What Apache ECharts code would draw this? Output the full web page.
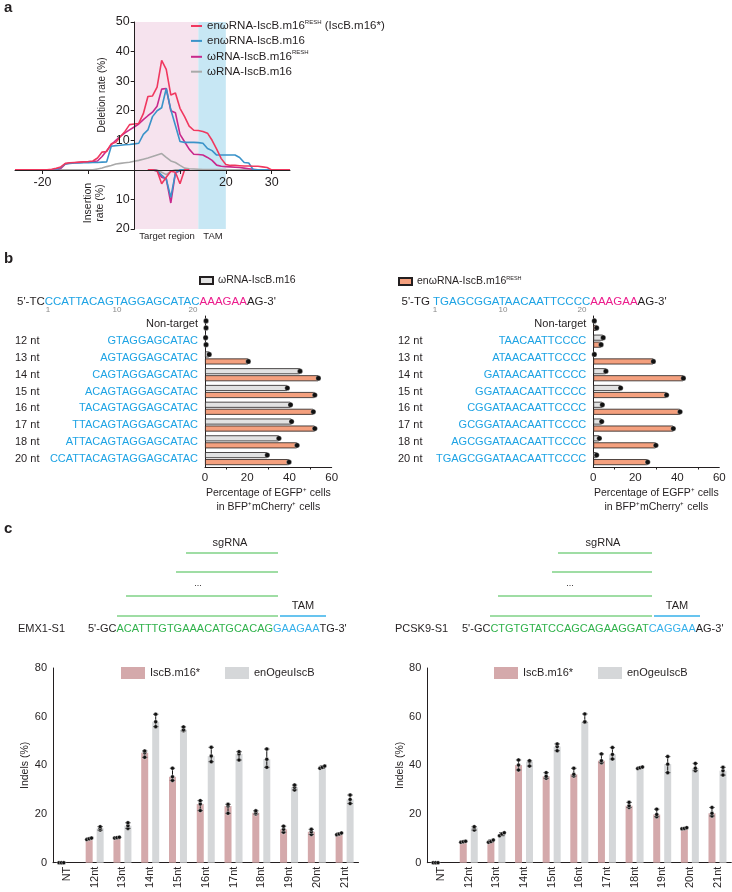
<!DOCTYPE html>
<html><head><meta charset="utf-8">
<script src="https://cdn.jsdelivr.net/npm/echarts@6/dist/echarts.min.js"></script>
<style>html,body{margin:0;padding:0;background:#fff}#c{width:732px;height:892px}</style>
</head><body><div id="c"></div>
<script>
// ================= DATA =================
// ---- Panel a: deletion / insertion profiles ----
const aX = [-26,-25,-24,-23,-22,-21,-20,-19,-18,-17,-16,-15,-14,-13,-12,-11,-10,-9,-8,-7,-6,-5,-4,-3,-2,-1,0,1,2,3,4,5,6,7,8,9,10,11,12,13,14,15,16,17,18,19,20,21,22,23,24,25,26,27,28,29,30,31,32,33,34];
const aDelRed  = [0,0,0,0,0,0,0,0, 0.2,0.5,1,2.2,2.4,2.5,2.6,2.7,2.8,3,4,6,6.2,8.8,9.3,11.3,13,15.3, 15.5,15.7,19,24.8,25,28,37,34,25.3,26,20.8,18,14.8,13.4,13.3,13,12.4,10,7,3.8, 1.8,1.5,1.5,1.4,1.3,1.3,1.2,1.2,1.0,0.8,0,0,0,0,0];
const aDelBlue = [0,0,0,0,0,0,0,0,0,0, 0.8,2,2.2,2.3,2.3,2.4,2.4,2.5,2.5,2.6,2.7, 8,8.2,8.3,8.5,8.6, 8.8,9,12,13.5,18,20,21,27.5,20.3,15,9.6,9.3,9.3,9.3,9.2,9,7.2,6.5,5,5, 5,5,5,4.2,2.5,2.3,0,0,0,0,0,0,0,0,0];
const aDelMag  = [0,0,0,0,0,0,0,0,0,0, 0.5,2,2.3,2.4,2.5,2.6,2.7,2.8,3,4.5,6.5, 8.5,10,11.3,12.5,13.5, 14.5,15.5,17,18.3,19.5,21.5,27.3,27.5,20,19.3,12,9.5,7,5.3,5.2,5,4.2,3.2,1.6,1.2, 1.1,1,0.9,0.8,0.6,0.4,0.2,0,0,0,0,0,0,0,0];
const aDelGray = [0,0,0,0,0,0,0,0,0,0,0,0,0,0,0,0,0,0, 0.3,0.6,1.1,1.5,2,2.2,2.4,2.6, 2.9,3.2,3.6,4,4.5,5,5.5,4.2,3,2.5,1.5,0.6,0.4,0.3,0.2,0.1,0.1,0.1,0.1,0.1, 0.1,0,0,0,0,0,0,0,0,0,0,0,0,0,0];
const aInsX    = [3,4,5,6,7,8,9,10,11,12];
const aInsRed  = [0,0,0.3,4.7,2.5,0.5,0.8,4.7,0,0];
const aInsBlue = [0,0,0.3,1.8,3.2,9.3,1,0,0,0];
const aInsMag  = [0,0,0.3,2.5,3,11.2,1,0.3,0,0];
const aInsGray = [0,0,0,0.8,1.6,0.5,0,0,0,0];
const aTargetRange = [0, 14];
const aTamRange = [14, 20];
const aNames = ['enωRNA-IscB.m16RESH (IscB.m16*)','enωRNA-IscB.m16','ωRNA-IscB.m16RESH','ωRNA-IscB.m16'];

// ---- Panel b: EGFP reporter ----
const bLeftSeqs  = ['Non-target','GTAGGAGCATAC','AGTAGGAGCATAC','CAGTAGGAGCATAC','ACAGTAGGAGCATAC','TACAGTAGGAGCATAC','TTACAGTAGGAGCATAC','ATTACAGTAGGAGCATAC','CCATTACAGTAGGAGCATAC'];
const bRightSeqs = ['Non-target','TAACAATTCCCC','ATAACAATTCCCC','GATAACAATTCCCC','GGATAACAATTCCCC','CGGATAACAATTCCCC','GCGGATAACAATTCCCC','AGCGGATAACAATTCCCC','TGAGCGGATAACAATTCCCC'];
const bNtLabels  = ['','12 nt','13 nt','14 nt','15 nt','16 nt','17 nt','18 nt','20 nt'];
const bLeftGray    = [0.5,0.3,2,45,39,40.5,41,35,29.5];
const bLeftOrange  = [0.5,0.5,20.5,53.7,52,51.3,52,43.6,39.8];
const bRightGray   = [0.5,4.7,0.5,6,13,4.3,4,2.9,1.6];
const bRightOrange = [1.6,3.7,28.6,42.9,34.9,41.3,38.1,29.8,25.9];

// ---- Panel c: indels ----
const cCats = ['NT','12nt','13nt','14nt','15nt','16nt','17nt','18nt','19nt','20nt','21nt'];
const emxPink   = [0,9.8,10.3,45.2,35.3,24.1,23.3,20.5,13.7,12.7,11.8];
const emxPinkLo = [0,9.5,10.1,43.3,33.8,21.4,20.3,20,12.5,11.6,11.5];
const emxPinkHi = [0,10.1,10.5,45.9,38.8,25.5,24,21.3,15,13.7,12.2];
const emxGray   = [null,14.1,15.2,57.9,54.6,43.8,44.7,42.5,31,39.2,26];
const emxGrayLo = [null,13.4,14.1,55.9,54.2,41.5,42.2,39.2,29.9,38.8,24.3];
const emxGrayHi = [null,14.8,16.4,61,55.8,47.4,45.6,46.7,31.9,39.7,27.8];
const pcsPink   = [0,8.6,8.7,40.1,35.5,36.3,41.9,23.4,19.8,14.1,20.3];
const pcsPinkLo = [0,8.4,8.4,38.1,34.7,35.6,41.1,22.7,18.9,13.9,19.2];
const pcsPinkHi = [0,8.8,9.3,42.2,37,38.8,44.7,24.8,22,14.4,22.7];
const pcsGray   = [null,14.4,11.8,41.5,47.7,57.9,44.5,39,40.5,38.8,37.8];
const pcsGrayLo = [null,13.4,11.1,39.7,46,57.7,42.6,38.7,37,37.8,36];
const pcsGrayHi = [null,14.8,12.3,41.9,48.8,61.1,47.3,39.3,43.6,40.8,39.2];

// ================= STYLE =================
const FONT = '"Liberation Sans", Arial, Helvetica, sans-serif';
const TXT = '#231f20';
const C_RED = '#f0385f', C_BLUE = '#3a93c9', C_MAG = '#c8298c', C_GRAY = '#a9a9a9';
const SEQ_BLUE = '#1ea3e4', SEQ_MAG = '#ec1c8c', SEQ_GREEN = '#31b24c', LINE_GREEN = '#7fd286', TAM_BLUE = '#36b0ea';
const B_GRAY = '#e2e2e2', B_ORANGE = '#f4a07e';
const C_PINK = '#d4a9ab', C_LGRAY = '#d5d7d9';

const pairs = (xs, ys, sign) => xs.map((x, i) => [x, ys[i] * (sign || 1)]);

const legendMap = {};
legendMap[aNames[0]] = '{t|enωRNA-IscB.m16}{s|RESH}{t| (IscB.m16*)}';
legendMap[aNames[1]] = '{t|enωRNA-IscB.m16}';
legendMap[aNames[2]] = '{t|ωRNA-IscB.m16}{s|RESH}';
legendMap[aNames[3]] = '{t|ωRNA-IscB.m16}';
legendMap['b·gray'] = '{u|ωRNA-IscB.m16}';
legendMap['b·orange'] = '{u|enωRNA-IscB.m16}{v|RESH}';
legendMap['c·pink'] = '{w|IscB.m16*}';
legendMap['c·gray'] = '{w|enOgeuIscB}';
const richLegend = {
  t: {fontSize: 11.5, fontFamily: FONT, color: TXT, lineHeight: 14},
  s: {fontSize: 6, fontFamily: FONT, color: TXT, lineHeight: 8, verticalAlign: 'top'},
  u: {fontSize: 10.5, fontFamily: FONT, color: TXT, lineHeight: 13},
  v: {fontSize: 5.5, fontFamily: FONT, color: TXT, lineHeight: 8, verticalAlign: 'top'},
  w: {fontSize: 11, fontFamily: FONT, color: TXT, lineHeight: 13}
};
const legendFmt = n => legendMap[n] || n;

// ================= SERIES =================
const series = [];
series.push({
  type: 'line', name: 'regions', xAxisIndex: 0, yAxisIndex: 0, data: [], silent: true,
  markArea: { silent: true, data: [
    [{xAxis: aTargetRange[0], yAxis: -20, itemStyle: {color: '#f6e3ee'}}, {xAxis: aTargetRange[1], yAxis: 50}],
    [{xAxis: aTamRange[0], yAxis: -20, itemStyle: {color: '#c7e7f4'}}, {xAxis: aTamRange[1], yAxis: 50}]
  ]}
});
const aLines = [
  [aNames[3], aDelGray, aInsGray, C_GRAY],
  [aNames[2], aDelMag, aInsMag, C_MAG],
  [aNames[1], aDelBlue, aInsBlue, C_BLUE],
  [aNames[0], aDelRed, aInsRed, C_RED]
];
aLines.forEach(([name, del, ins, col]) => {
  const common = {type: 'line', name, xAxisIndex: 0, yAxisIndex: 0, showSymbol: false, symbol: 'none',
    lineStyle: {width: 1.6, color: col}, itemStyle: {color: col}, z: 3};
  series.push(Object.assign({}, common, {data: pairs(aX, del)}));
  series.push(Object.assign({}, common, {data: pairs(aInsX, ins, -1)}));
});

function dotRenderH(offset) {
  return function (params, api) {
    const p = api.coord([api.value(0), api.value(1)]);
    return {type: 'circle', shape: {cx: p[0], cy: p[1] + offset, r: 2.6},
      style: {fill: '#111', stroke: '#fff', lineWidth: 0.3}};
  };
}
const bBar = (name, data, xi, yi, color) => ({
  type: 'bar', name, xAxisIndex: xi, yAxisIndex: yi, data, barWidth: 6, barGap: '17%',
  itemStyle: {color, borderColor: TXT, borderWidth: 0.8}
});
series.push(bBar('b·gray', bLeftGray, 1, 1, B_GRAY));
series.push(bBar('b·orange', bLeftOrange, 1, 1, B_ORANGE));
series.push(bBar('b·gray', bRightGray, 2, 3, B_GRAY));
series.push(bBar('b·orange', bRightOrange, 2, 3, B_ORANGE));
[[bLeftGray, 1, 1, -3.5], [bLeftOrange, 1, 1, 3.5], [bRightGray, 2, 3, -3.5], [bRightOrange, 2, 3, 3.5]].forEach(([arr, xi, yi, off]) => {
  series.push({type: 'custom', name: 'dots', xAxisIndex: xi, yAxisIndex: yi, z: 5,
    data: arr.map((v, i) => [v, i]), renderItem: dotRenderH(off), silent: true});
});

function errRender(offset) {
  return function (params, api) {
    const m = api.value(1);
    if (m === null || m === undefined || isNaN(m)) return null;
    const i = api.value(0);
    const pM = api.coord([i, m]), pL = api.coord([i, api.value(2)]), pH = api.coord([i, api.value(3)]);
    const x = pM[0] + offset, cap = 2.6, r = 2;
    const st = {stroke: '#111', lineWidth: 1};
    const dot = (dx, y) => ({type: 'circle', shape: {cx: x + dx, cy: y, r}, style: {fill: '#111', stroke: '#fff', lineWidth: 0.4}});
    const spread = Math.abs(pL[1] - pH[1]) < 3 ? 2.4 : 0;
    return {type: 'group', children: [
      {type: 'line', shape: {x1: x, y1: pL[1], x2: x, y2: pH[1]}, style: st},
      {type: 'line', shape: {x1: x - cap, y1: pL[1], x2: x + cap, y2: pL[1]}, style: st},
      {type: 'line', shape: {x1: x - cap, y1: pH[1], x2: x + cap, y2: pH[1]}, style: st},
      dot(-spread, pL[1]), dot(0, pM[1]), dot(spread, pH[1])
    ]};
  };
}
const cBar = (name, data, xi, yi, color) => ({
  type: 'bar', name, xAxisIndex: xi, yAxisIndex: yi, data, barWidth: 7, barGap: '57%',
  itemStyle: {color}
});
series.push(cBar('c·pink', emxPink, 3, 5, C_PINK));
series.push(cBar('c·gray', emxGray, 3, 5, C_LGRAY));
series.push(cBar('c·pink', pcsPink, 4, 6, C_PINK));
series.push(cBar('c·gray', pcsGray, 4, 6, C_LGRAY));
[[emxPink, emxPinkLo, emxPinkHi, 3, 5, -5.5], [emxGray, emxGrayLo, emxGrayHi, 3, 5, 5.5],
 [pcsPink, pcsPinkLo, pcsPinkHi, 4, 6, -5.5], [pcsGray, pcsGrayLo, pcsGrayHi, 4, 6, 5.5]].forEach(([m, lo, hi, xi, yi, off]) => {
  series.push({type: 'custom', name: 'err', xAxisIndex: xi, yAxisIndex: yi, z: 5, silent: true,
    data: m.map((v, i) => [i, v, lo[i], hi[i]]), renderItem: errRender(off)});
});

// ================= AXES =================
const axLine = {show: true, lineStyle: {color: TXT, width: 1}};
const bXAxis = (gi) => ({gridIndex: gi, type: 'value', min: 0, max: 60, interval: 20, axisLine: axLine,
   axisTick: {length: 4, lineStyle: {color: TXT}}, minorTick: {show: true, splitNumber: 2, length: 2.5, lineStyle: {color: TXT}},
   axisLabel: {fontSize: 11.5, color: TXT, fontFamily: FONT, margin: 5}, splitLine: {show: false},
   name: 'Percentage of EGFP⁺ cells\nin BFP⁺mCherry⁺ cells', nameLocation: 'middle', nameGap: 19,
   nameTextStyle: {fontSize: 10.5, color: TXT, fontFamily: FONT, lineHeight: 14}});
const cXAxis = (gi) => ({gridIndex: gi, type: 'category', data: cCats, axisLine: axLine,
   axisTick: {alignWithLabel: true, length: 4, lineStyle: {color: TXT}},
   axisLabel: {rotate: 90, interval: 0, fontSize: 11, color: TXT, fontFamily: FONT, margin: 4}});
const xAxis = [
  {gridIndex: 0, type: 'value', min: -26, max: 34, z: 4, position: 'bottom', offset: -59,
   axisLine: {show: true, onZero: false, lineStyle: {color: TXT, width: 1}},
   axisTick: {show: true, length: 4, customValues: [-20, -10, 0, 10, 20, 30], lineStyle: {color: TXT}},
   axisLabel: {customValues: [-20, 20, 30], fontSize: 12.5, color: TXT, fontFamily: FONT, margin: 6},
   splitLine: {show: false}},
  bXAxis(1), bXAxis(2), cXAxis(3), cXAxis(4)
];
const seqColor = v => v === 'Non-target' ? TXT : SEQ_BLUE;
const bSeqAxis = (gi, data) => ({gridIndex: gi, type: 'category', data, inverse: true, position: 'left', axisLine: axLine,
   axisTick: {alignWithLabel: true, length: 3, lineStyle: {color: TXT}},
   axisLabel: {interval: 0, fontSize: 11, fontFamily: FONT, margin: 7, color: seqColor}});
// row-name column ("12 nt" ...) drawn by a second category axis shifted to the left edge
const bNtAxis = (gi, offset) => ({gridIndex: gi, type: 'category', data: bNtLabels.map((t, i) => i + ':' + t), inverse: true,
   position: 'right', offset, axisLine: {show: false}, axisTick: {show: false},
   axisLabel: {interval: 0, fontSize: 11, fontFamily: FONT, color: TXT, align: 'left', margin: 0, formatter: v => v.split(':')[1]}});
const cYAxis = (gi) => ({gridIndex: gi, type: 'value', min: 0, max: 80, interval: 20, axisLine: axLine,
   axisTick: {length: 4, lineStyle: {color: TXT}}, splitLine: {show: false},
   axisLabel: {fontSize: 11, color: TXT, fontFamily: FONT, margin: 6},
   name: 'Indels (%)', nameLocation: 'middle', nameGap: 22, nameTextStyle: {fontSize: 10.5, color: TXT, fontFamily: FONT}});
const yAxis = [
  {gridIndex: 0, type: 'value', min: -20, max: 50, interval: 10, z: 4, position: 'left', offset: -119.7,
   axisLine: {show: true, onZero: false, lineStyle: {color: TXT, width: 1}},
   axisTick: {show: true, length: 4, lineStyle: {color: TXT}},
   axisLabel: {fontSize: 12.5, color: TXT, fontFamily: FONT, margin: 5, formatter: v => v === 0 ? '' : String(Math.abs(v))},
   splitLine: {show: false}},
  bSeqAxis(1, bLeftSeqs), bNtAxis(1, -316.7),
  bSeqAxis(2, bRightSeqs), bNtAxis(2, -321.3),
  cYAxis(3), cYAxis(4)
];
const grid = [
  {left: 15, top: 22, width: 275, height: 207},
  {left: 205, top: 316, width: 126.7, height: 151},
  {left: 593.3, top: 316, width: 126, height: 151},
  {left: 53, top: 668, width: 305.5, height: 194.7},
  {left: 427.3, top: 668, width: 304, height: 194.7}
].map(g => Object.assign(g, {outerBoundsMode: 'none', containLabel: false}));

// ================= LEGENDS =================
const lg = (name, left, top, w, h) => ({data: [name], left, top, icon: 'rect', itemWidth: w, itemHeight: h,
  formatter: legendFmt, textStyle: {rich: richLegend}, selectedMode: false});
const legend = [
  {data: aNames, left: 186, top: 14, orient: 'vertical', icon: 'rect', itemWidth: 11, itemHeight: 2, itemGap: 2.9,
   formatter: legendFmt, textStyle: {rich: richLegend}, selectedMode: false},
  lg('b·gray', 194, 270, 13, 7), lg('b·orange', 393, 270, 13, 7),
  lg('c·pink', 116, 662, 24, 12), lg('c·gray', 220, 662, 24, 12),
  lg('c·pink', 489, 662, 24, 12), lg('c·gray', 593, 662, 24, 12)
];

// ================= ANNOTATIONS =================
const G = [];
const T = (x, y, text, o) => {
  o = o || {};
  G.push({type: 'text', x, y, rotation: o.rot || 0, silent: true, z: 10,
    style: {text, fill: o.fill || TXT, fontSize: o.size || 11, fontFamily: FONT, fontWeight: o.weight || 'normal',
      align: o.align || 'left', verticalAlign: o.va || 'middle', lineHeight: o.lh, rich: o.rich}});
};
const L = (x1, y1, x2, y2, c) => G.push({type: 'line', silent: true, shape: {x1, y1, x2, y2}, style: {stroke: c, lineWidth: 1.4}});
T(4, 15, 'a', {size: 15, weight: 'bold', va: 'bottom'});
T(4, 266, 'b', {size: 15, weight: 'bold', va: 'bottom'});
T(4, 536, 'c', {size: 15, weight: 'bold', va: 'bottom'});
T(102, 95, 'Deletion rate (%)', {rot: Math.PI / 2, align: 'center', size: 10});
T(94, 203, 'Insertion\nrate (%)', {rot: Math.PI / 2, align: 'center', size: 10.5, lh: 12});
T(167, 236, 'Target region', {align: 'center', size: 9.5});
T(213, 236, 'TAM', {align: 'center', size: 9.5});
const seqRich = (size) => ({
  k: {fill: TXT, fontSize: size, fontFamily: FONT},
  b: {fill: SEQ_BLUE, fontSize: size, fontFamily: FONT},
  m: {fill: SEQ_MAG, fontSize: size, fontFamily: FONT},
  g: {fill: SEQ_GREEN, fontSize: size, fontFamily: FONT},
  t: {fill: TAM_BLUE, fontSize: size, fontFamily: FONT}
});
T(17, 302, "{k|5'-TC}{b|CCATTACAGTAGGAGCATAC}{m|AAAGAA}{k|AG-3'}", {rich: seqRich(11.5)});
T(401.5, 302, "{k|5'-TG }{b|TGAGCGGATAACAATTCCCC}{m|AAAGAA}{k|AG-3'}", {rich: seqRich(11.5)});
[[48, '1'], [117, '10'], [193, '20'], [435, '1'], [503, '10'], [582, '20']].forEach(([x, s]) => T(x, 310, s, {align: 'center', size: 8, fill: '#8a8a8a'}));
T(18, 629, 'EMX1-S1', {size: 11});
T(88, 629, "{k|5'-GC}{g|ACATTTGTGAAACATGCACAG}{t|GAAGAA}{k|TG-3'}", {rich: seqRich(11)});
T(395, 629, 'PCSK9-S1', {size: 11});
T(462, 629, "{k|5'-GC}{g|CTGTGTATCCAGCAGAAGGAT}{t|CAGGAA}{k|AG-3'}", {rich: seqRich(11)});
T(230, 543, 'sgRNA', {align: 'center', size: 11});
T(603, 543, 'sgRNA', {align: 'center', size: 11});
T(198, 584, '...', {align: 'center', size: 9});
T(570, 584, '...', {align: 'center', size: 9});
T(303, 606, 'TAM', {align: 'center', size: 11});
T(677, 606, 'TAM', {align: 'center', size: 11});
L(186, 553, 278, 553, LINE_GREEN); L(176, 572, 278, 572, LINE_GREEN); L(126, 596, 278, 596, LINE_GREEN); L(117, 616, 278, 616, LINE_GREEN);
L(280, 616, 326, 616, TAM_BLUE);
L(558, 553, 652, 553, LINE_GREEN); L(552, 572, 652, 572, LINE_GREEN); L(498, 596, 652, 596, LINE_GREEN); L(490, 616, 652, 616, LINE_GREEN);
L(654, 616, 700, 616, TAM_BLUE);

// ================= CHART =================
const chart = echarts.init(document.getElementById('c'), null, {renderer: 'canvas', width: 732, height: 892});
chart.setOption({
  animation: false,
  backgroundColor: '#fff',
  textStyle: {fontFamily: FONT, color: TXT},
  grid, xAxis, yAxis, legend, series, graphic: G
});
</script></body></html>
